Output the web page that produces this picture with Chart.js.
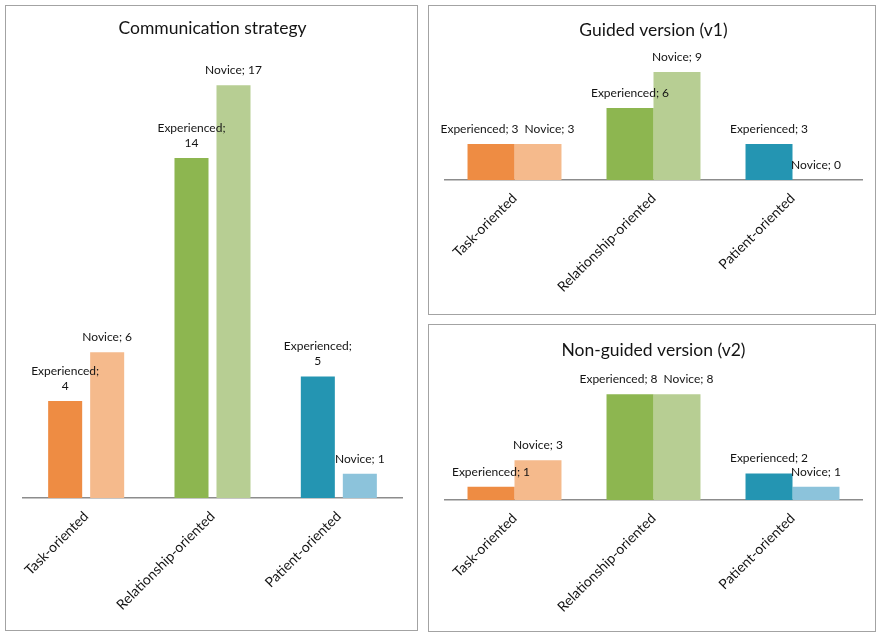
<!DOCTYPE html>
<html>
<head>
<meta charset="utf-8">
<script src="https://cdn.jsdelivr.net/npm/chart.js@4.4.0/dist/chart.umd.min.js"></script>
<style>
  body { margin: 0; background: #fff; width: 878px; height: 633px; position: relative; overflow: hidden; }
  .panel { position: absolute; border: 1px solid #a3a3a3; box-sizing: border-box; background: #fff; }
  .panel canvas { display: block; }
</style>
</head>
<body>
<div class="panel" style="left:5px;top:5px;width:413px;height:626px"><canvas id="overall" width="411" height="624"></canvas></div>
<div class="panel" style="left:428px;top:5px;width:448px;height:310px"><canvas id="guided" width="446" height="308"></canvas></div>
<div class="panel" style="left:428px;top:324px;width:448px;height:308px"><canvas id="nonGuided" width="446" height="306"></canvas></div>
<script>
const categories = ["Task-oriented", "Relationship-oriented", "Patient-oriented"];
const seriesNames = ["Experienced", "Novice"];

const overallExperienced = [4, 14, 5];
const overallNovice = [6, 17, 1];
const guidedExperienced = [3, 6, 3];
const guidedNovice = [3, 9, 0];
const nonGuidedExperienced = [1, 8, 2];
const nonGuidedNovice = [3, 8, 1];

const darkColors = ["#ee8c43", "#8db650", "#2495b2"];
const lightColors = ["#f5ba8c", "#b7ce93", "#8cc3db"];

const FONT = "Lato";

// "Series; value" labels above bars, pushed apart sideways when two collide
const barLabels = {
  id: "barLabels",
  afterDatasetsDraw(chart, args, opts) {
    const ctx = chart.ctx;
    ctx.save();
    ctx.font = "12px " + FONT;
    ctx.fillStyle = "#141414";
    ctx.textAlign = "center";
    ctx.textBaseline = "middle";
    const lineH = 15;
    chart.data.labels.forEach((cat, i) => {
      const boxes = chart.data.datasets.map((ds, d) => {
        const bar = chart.getDatasetMeta(d).data[i];
        const text = ds.label + "; " + ds.data[i];
        let lines = [text];
        if (opts.wrap && ctx.measureText(text).width > opts.wrap) {
          lines = [ds.label + ";", String(ds.data[i])];
        }
        const w = Math.max(...lines.map((l) => ctx.measureText(l).width));
        const yLast = bar.y - 15;
        const top = yLast - (lines.length - 1) * lineH - 6;
        return { x: bar.x, lines, w, top, bottom: yLast + 6, yLast };
      });
      const [a, b] = boxes;
      const vOverlap = a.top < b.bottom && b.top < a.bottom;
      const hOverlap = a.x + a.w / 2 + 6 - (b.x - b.w / 2);
      if (vOverlap && hOverlap > 0) {
        a.x -= hOverlap / 2;
        b.x += hOverlap / 2;
      }
      boxes.forEach((bx) => {
        bx.lines.forEach((l, k) => {
          ctx.fillText(l, bx.x, bx.yLast - (bx.lines.length - 1 - k) * lineH);
        });
      });
    });
    ctx.restore();
  },
};

function drawPanel(id, title, experienced, novice, cfg) {
  const ctx = document.getElementById(id).getContext("2d");
  return new Chart(ctx, {
    type: "bar",
    data: {
      labels: categories,
      datasets: [
        { label: seriesNames[0], data: experienced, backgroundColor: darkColors },
        { label: seriesNames[1], data: novice, backgroundColor: lightColors },
      ],
    },
    options: {
      responsive: false,
      animation: false,
      categoryPercentage: cfg.catPct,
      barPercentage: cfg.barPct,
      layout: { padding: { left: cfg.left, right: cfg.right, top: 0, bottom: 0 } },
      plugins: {
        legend: { display: false },
        tooltip: { enabled: false },
        title: {
          display: true,
          text: title,
          color: "#141414",
          font: { family: FONT, size: 17.5, weight: "normal" },
          padding: { top: cfg.titleTop, bottom: cfg.titleBottom },
        },
        barLabels: { wrap: cfg.wrap },
      },
      scales: {
        x: {
          grid: { display: false, drawTicks: false },
          border: { display: true, color: "#8c8c8c", width: 1.5 },
          ticks: {
            color: "#141414",
            font: { family: FONT, size: 14 },
            minRotation: 45,
            maxRotation: 45,
            autoSkip: false,
            padding: 10,
          },
          afterFit: (scale) => { scale.height = cfg.axisH; },
        },
        y: { display: false, min: 0, max: cfg.yMax },
      },
    },
    plugins: [barLabels],
  });
}

drawPanel("overall", "Communication strategy", overallExperienced, overallNovice, {
  yMax: 18, catPct: 0.665, barPct: 0.81, left: 17, right: 15,
  titleTop: 11.7, titleBottom: 22.3, axisH: 132, wrap: 70,
});
drawPanel("guided", "Guided version (v1)", guidedExperienced, guidedNovice, {
  yMax: 10, catPct: 0.676, barPct: 1, left: 16, right: 13,
  titleTop: 13.7, titleBottom: 19.3, axisH: 134, wrap: 0,
});
drawPanel("nonGuided", "Non-guided version (v2)", nonGuidedExperienced, nonGuidedNovice, {
  yMax: 9, catPct: 0.676, barPct: 1, left: 16, right: 13,
  titleTop: 14.7, titleBottom: 20.3, axisH: 131, wrap: 0,
});
</script>
</body>
</html>
